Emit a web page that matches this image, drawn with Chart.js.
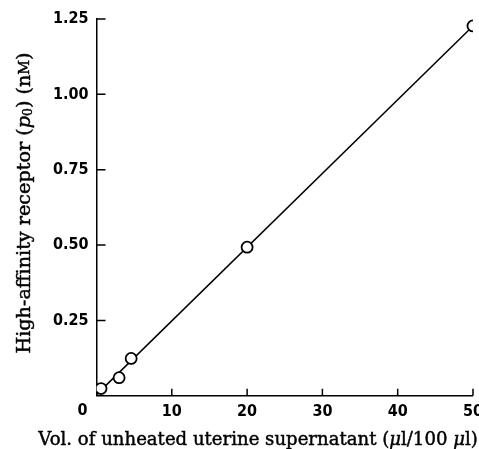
<!DOCTYPE html>
<html>
<head>
<meta charset="utf-8">
<script src="https://cdn.jsdelivr.net/npm/chart.js@4"></script>
<style>
	body { margin: 0; background: #fff; overflow: hidden; }
	#wrap { width: 489px; height: 449px; }
</style>
</head>
<body>
<div id="wrap"><canvas id="chart"></canvas></div>
<script>
// measured points
const volumes = [0.6, 3, 4.6, 20, 50];
const receptor = [0.024, 0.06, 0.124, 0.493, 1.227];
// fitted line ends
const fitX = [0, 50];
const fitY = [0.004, 1.227];
const yTicks = [0.25, 0.5, 0.75, 1.0, 1.25];
const xTicks = [10, 20, 30, 40, 50];

const tickFont = { family: "'DejaVu Sans Condensed', 'DejaVu Sans', sans-serif", size: 16, weight: 'bold' };
const serif = "'DejaVu Serif', serif";

// axis titles as rich text (italic p, subscript, small caps M)
const xTitle = [
	{ t: 'Vol. of unheated uterine supernatant (' },
	{ t: 'μ', it: true },
	{ t: 'l/100 ' },
	{ t: 'μ', it: true },
	{ t: 'l)' }
];
const yTitle = [
	{ t: 'High-affinity receptor (' },
	{ t: 'p', it: true },
	{ t: '0', sc: 0.65, dy: 4 },
	{ t: ') (n' },
	{ t: 'M', sc: 0.75 },
	{ t: ')' }
];

function segFont(s, size) {
	return `${s.it ? 'italic ' : ''}${size * (s.sc || 1)}px ${serif}`;
}

function drawRich(ctx, segs, size, cx, cy) {
	let total = 0;
	segs.forEach((s) => {
		ctx.font = segFont(s, size);
		s.w = ctx.measureText(s.t).width;
		total += s.w;
	});
	let px = cx - total / 2;
	segs.forEach((s) => {
		ctx.font = segFont(s, size);
		ctx.fillText(s.t, px, cy + (s.dy || 0));
		ctx.strokeText(s.t, px, cy + (s.dy || 0));
		px += s.w;
	});
}

// small inward tick marks, the shared "0" at the origin, axis titles
const decorations = {
	id: 'decorations',
	afterDraw(chart) {
		const ctx = chart.ctx;
		const x = chart.scales.x, y = chart.scales.y;
		const area = chart.chartArea;
		ctx.save();
		ctx.strokeStyle = '#000';
		ctx.lineWidth = 1.5;
		ctx.beginPath();
		yTicks.forEach((v) => {
			let py = y.getPixelForValue(v);
			ctx.moveTo(area.left, py);
			ctx.lineTo(area.left + 9, py);
		});
		xTicks.forEach((v) => {
			let px = x.getPixelForValue(v);
			ctx.moveTo(px, area.bottom);
			ctx.lineTo(px, area.bottom - 7);
		});
		ctx.stroke();
		ctx.fillStyle = '#000';
		ctx.font = `${tickFont.weight} ${tickFont.size}px ${tickFont.family}`;
		ctx.textAlign = 'center';
		ctx.textBaseline = 'middle';
		ctx.fillText('0', area.left - 14, area.bottom + 15);

		ctx.textAlign = 'left';
		ctx.textBaseline = 'middle';
		ctx.lineWidth = 0.45;
		drawRich(ctx, xTitle, 18.1, 258, 440);
		ctx.translate(25, 203);
		ctx.rotate(-Math.PI / 2);
		drawRich(ctx, yTitle, 19.2, 0, 0);
		ctx.restore();
	}
};

new Chart(document.getElementById('chart'), {
	type: 'scatter',
	data: {
		datasets: [
			{
				label: 'points',
				data: volumes.map((v, i) => ({ x: v, y: receptor[i] })),
				pointRadius: 5.5,
				pointBorderWidth: 1.8,
				pointBorderColor: '#000',
				pointBackgroundColor: '#fff',
				showLine: false,
				order: 0
			},
			{
				label: 'fit',
				data: fitX.map((v, i) => ({ x: v, y: fitY[i] })),
				showLine: true,
				borderColor: '#000',
				borderWidth: 1.5,
				pointRadius: 0,
				order: 1
			}
		]
	},
	options: {
		responsive: true,
		maintainAspectRatio: false,
		animation: false,
		layout: { padding: { top: 19, left: 45, right: 0, bottom: 22 } },
		plugins: {
			legend: { display: false },
			tooltip: { enabled: false }
		},
		scales: {
			x: {
				type: 'linear',
				min: 0,
				max: 50,
				grid: { display: false, drawTicks: false },
				border: { display: true, color: '#000', width: 1.5 },
				ticks: {
					stepSize: 10,
					color: '#000',
					font: tickFont,
					padding: 6,
					maxRotation: 0,
					callback: (v) => (v === 0 ? '' : v)
				}
			},
			y: {
				type: 'linear',
				min: 0,
				max: 1.25,
				grid: { display: false, drawTicks: false },
				border: { display: true, color: '#000', width: 1.5 },
				ticks: {
					stepSize: 0.25,
					color: '#000',
					font: tickFont,
					padding: 8,
					callback: (v) => (v === 0 ? '' : v.toFixed(2))
				}
			}
		}
	},
	plugins: [decorations]
});
</script>
</body>
</html>
